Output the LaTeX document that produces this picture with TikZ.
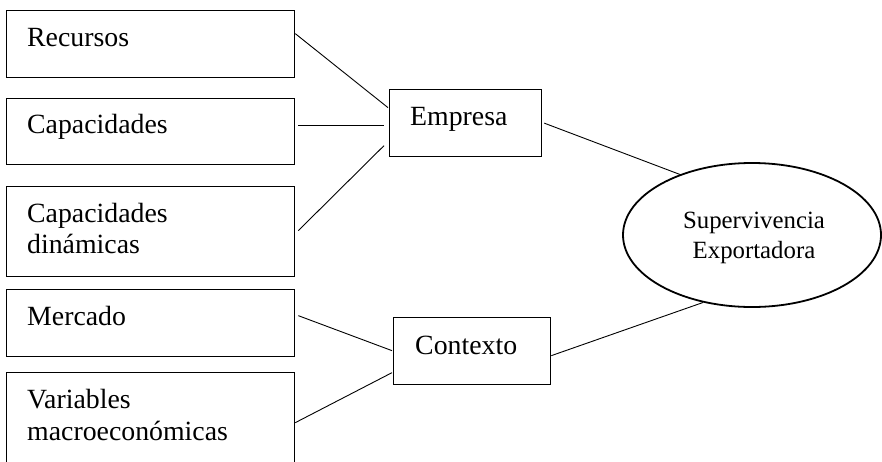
\documentclass[tikz,border=0pt]{standalone}
\usepackage{fontspec}
\setmainfont{Liberation Serif}
\usetikzlibrary{shapes.geometric}
\begin{document}
\begin{tikzpicture}[x=1pt,y=-1pt,
  box/.style={draw, line width=1.3pt, anchor=north west, inner sep=0pt},
  lbl/.style={anchor=base west, inner sep=0pt, font=\fontsize{27.8}{31}\selectfont},
  elbl/.style={anchor=base, inner sep=0pt, font=\fontsize{24.8}{30}\selectfont},
  conn/.style={line width=0.9pt}]
\useasboundingbox (0,0) rectangle (882,461);
\clip (0,0) rectangle (882,461);
% left boxes
\node[box, minimum width=288pt, minimum height=67pt] (rec) at (6,10) {};
\node[lbl] (recT) at (27,46) {Recursos};
\node[box, minimum width=288pt, minimum height=66pt] (cap) at (6,98) {};
\node[lbl] (capT) at (27,133) {Capacidades};
\node[box, minimum width=288pt, minimum height=90pt] (din) at (6,186) {};
\node[lbl] (dinT1) at (27,222) {Capacidades};
\node[lbl] (dinT2) at (27,253) {dinámicas};
\node[box, minimum width=288pt, minimum height=67pt] (mer) at (6,289) {};
\node[lbl] (merT) at (27,325) {Mercado};
\node[box, minimum width=288pt, minimum height=100pt] (var) at (6,372) {};
\node[lbl] (varT1) at (27,408) {Variables};
\node[lbl] (varT2) at (27,440) {macroeconómicas};
% middle boxes
\node[box, minimum width=152pt, minimum height=67pt] (emp) at (389,89) {};
\node[lbl] (empT) at (410,125) {Empresa};
\node[box, minimum width=157pt, minimum height=67pt] (ctx) at (393,317) {};
\node[lbl] (ctxT) at (415,354) {Contexto};
% ellipse
\node[draw, ellipse, line width=1.8pt, inner sep=0pt, minimum width=258pt, minimum height=144pt] (sup) at (752,235) {};
\node[elbl] (supT1) at (754,228) {Supervivencia};
\node[elbl] (supT2) at (754,258) {Exportadora};
% connectors
\draw[conn] ([yshift=10.5pt]rec.east) -- ([xshift=-1pt,yshift=15.5pt]emp.west);
\draw[conn] ([xshift=3pt,yshift=6pt]cap.east) -- ([xshift=-5pt,yshift=-2.5pt]emp.west);
\draw[conn] ([xshift=3pt,yshift=1pt]din.east) -- ([xshift=-5pt,yshift=-22.5pt]emp.west);
\draw[conn] ([xshift=3pt,yshift=7.5pt]mer.east) -- ([xshift=-1pt,yshift=0.5pt]ctx.west);
\draw[conn] (var.east) -- ([xshift=-1pt,yshift=-21.5pt]ctx.west);
\draw[conn] ([xshift=2pt]emp.east) -- (sup.140);
\draw[conn] ([yshift=-4.5pt]ctx.east) -- (sup.234);
\end{tikzpicture}
\end{document}
